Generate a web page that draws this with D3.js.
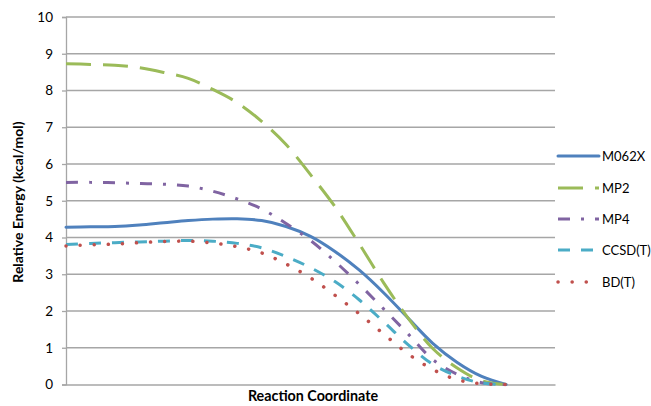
<!DOCTYPE html>
<html><head><meta charset="utf-8">
<script src="https://cdn.jsdelivr.net/npm/d3@7"></script>
<style>body{margin:0;background:#fff;} svg{display:block;}</style>
</head><body>
<svg id="chart" width="651" height="406"></svg>
<script>
const reactionCoord = [0,0.5,1,1.5,2,2.5,3,3.5,4,4.5,5,5.5,6,6.5,7,7.5,8,8.5,9];
const m062x = [4.28,4.29,4.30,4.34,4.40,4.46,4.50,4.51,4.46,4.30,4.03,3.62,3.11,2.49,1.80,1.12,0.60,0.22,0.0];
const mp2   = [8.73,8.71,8.69,8.62,8.49,8.33,8.03,7.67,7.16,6.53,5.71,4.84,3.82,2.76,1.80,0.98,0.45,0.10,0.0];
const mp4   = [5.50,5.50,5.49,5.47,5.45,5.40,5.26,5.05,4.78,4.38,3.92,3.35,2.72,2.05,1.37,0.68,0.28,0.05,0.0];
const ccsdt = [3.81,3.84,3.86,3.88,3.90,3.92,3.90,3.84,3.72,3.48,3.18,2.80,2.30,1.70,1.08,0.55,0.23,0.04,0.0];
const bdt   = [3.77,3.80,3.82,3.86,3.89,3.90,3.85,3.75,3.58,3.28,2.90,2.43,1.92,1.37,0.83,0.41,0.13,0.02,0.0];
const seriesNames = ["M062X","MP2","MP4","CCSD(T)","BD(T)"];
const yTicks = [0,1,2,3,4,5,6,7,8,9,10];

const seriesValues = [m062x, mp2, mp4, ccsdt, bdt];
const colors = ["#4F81BD","#9BBB59","#8064A2","#4BACC6","#C0504D"];
const dashes = [null,"25,12","12,11,3,11","12,11","0.1,14"];
const caps = ["round","butt","butt","butt","round"];
const widths = [3,3,3,3,3.5];

const svg = d3.select("#chart");
const plotL = 66, plotR = 555, plotT = 17, plotB = 384.5;
const x = d3.scaleLinear().domain([0, 10]).range([plotL, plotR]);
const y = d3.scaleLinear().domain([0, 10]).range([plotB, plotT]);
const font = "Lato, 'Open Sans', sans-serif";

// gridlines
svg.append("g").selectAll("line").data(yTicks.filter(d => d > 0)).join("line")
  .attr("x1", plotL).attr("x2", plotR)
  .attr("y1", d => y(d)).attr("y2", d => y(d))
  .attr("stroke", "#A6A6A6").attr("stroke-width", 1.3);

// y axis
const yAxis = d3.axisLeft(y).tickValues(yTicks).tickSize(4).tickPadding(9).tickFormat(d3.format("d"));
const gy = svg.append("g").attr("transform", `translate(${plotL},0)`).call(yAxis);
gy.select(".domain").attr("stroke", "#A6A6A6").attr("stroke-width", 1.3);
gy.selectAll(".tick line").attr("stroke", "#A6A6A6").attr("stroke-width", 1.3);
gy.selectAll(".tick text").attr("font-family", font).attr("font-size", 13.5).attr("fill", "#000");

// x axis line
const xAxis = d3.axisBottom(x).tickValues([]).tickSizeOuter(0);
const gx = svg.append("g").attr("transform", `translate(0,${plotB})`).call(xAxis);
gx.select(".domain").attr("stroke", "#A6A6A6").attr("stroke-width", 1.3);

// lines
const line = d3.line().x((d, i) => x(reactionCoord[i])).y(d => y(d)).curve(d3.curveCatmullRom.alpha(0.5));
seriesValues.forEach((vals, k) => {
  svg.append("path").datum(vals)
    .attr("d", line)
    .attr("fill", "none")
    .attr("stroke", colors[k])
    .attr("stroke-width", widths[k])
    .attr("stroke-linecap", caps[k])
    .attr("stroke-dasharray", dashes[k]);
});

// axis titles
svg.append("text").attr("x", 313).attr("y", 401).attr("text-anchor", "middle")
  .attr("font-family", font).attr("font-weight", "bold").attr("font-size", 14.3)
  .text("Reaction Coordinate");
svg.append("text").attr("transform", "translate(23,202) rotate(-90)").attr("text-anchor", "middle")
  .attr("font-family", font).attr("font-weight", "bold").attr("font-size", 14)
  .text("Relative Energy (kcal/mol)");

// legend
const legendY = [156, 188, 219, 250, 282];
const lg = svg.append("g");
seriesNames.forEach((name, k) => {
  lg.append("line").attr("x1", 558).attr("x2", 599).attr("y1", legendY[k]).attr("y2", legendY[k])
    .attr("stroke", colors[k]).attr("stroke-width", widths[k])
    .attr("stroke-linecap", caps[k]).attr("stroke-dasharray", dashes[k]);
  lg.append("text").attr("x", 602).attr("y", legendY[k]).attr("dy", "0.35em")
    .attr("font-family", font).attr("font-size", 13).text(name);
});
</script>
</body></html>
